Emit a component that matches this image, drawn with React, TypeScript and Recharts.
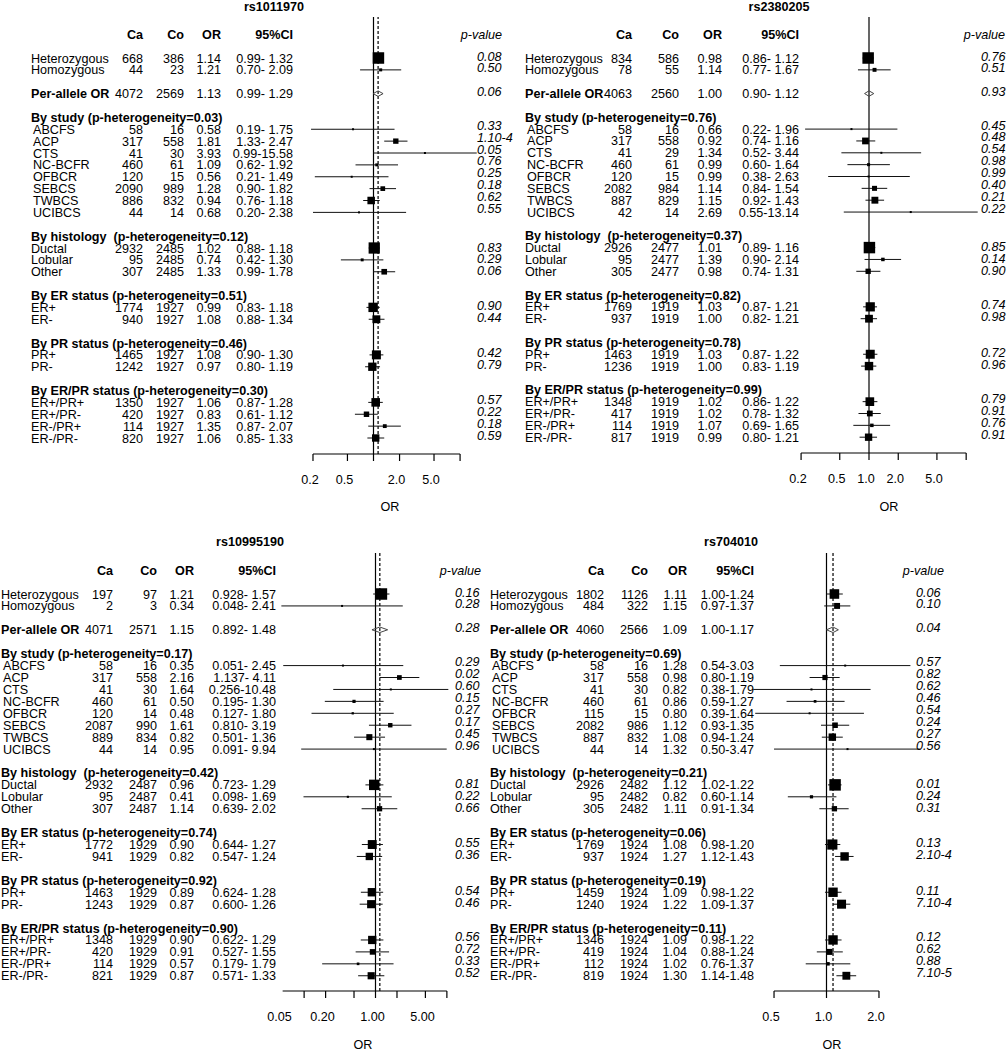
import { ScatterChart, Scatter, XAxis, YAxis, ReferenceLine, ErrorBar } from "recharts"

// row labels shared by all four SNP panels
const mainLabels = ["Heterozygous", "Homozygous", "Per-allele OR"]
const groupTitles = ["By study", "By histology", "By ER status", "By PR status", "By ER/PR status"]
const groupLabels = [
    ["ABCFS", "ACP", "CTS", "NC-BCFR", "OFBCR", "SEBCS", "TWBCS", "UCIBCS"],
    ["Ductal", "Lobular", "Other"],
    ["ER+", "ER-"],
    ["PR+", "PR-"],
    ["ER+/PR+", "ER+/PR-", "ER-/PR+", "ER-/PR-"],
]

// rs1011970
const rs1011970Ca = [668, 44, 4072, 58, 317, 41, 460, 120, 2090, 886, 44, 2932, 95, 307, 1774, 940, 1465, 1242, 1350, 420, 114, 820]
const rs1011970Co = [386, 23, 2569, 16, 558, 30, 61, 15, 989, 832, 14, 2485, 2485, 2485, 1927, 1927, 1927, 1927, 1927, 1927, 1927, 1927]
const rs1011970Or = ["1.14", "1.21", "1.13", "0.58", "1.81", "3.93", "1.09", "0.56", "1.28", "0.94", "0.68", "1.02", "0.74", "1.33", "0.99", "1.08", "1.08", "0.97", "1.06", "0.83", "1.35", "1.06"]
const rs1011970Ci = ["0.99- 1.32", "0.70- 2.09", "0.99- 1.29", "0.19- 1.75", "1.33- 2.47", "0.99-15.58", "0.62- 1.92", "0.21- 1.49", "0.90- 1.82", "0.76- 1.18", "0.20- 2.38", "0.88- 1.18", "0.42- 1.30", "0.99- 1.78", "0.83- 1.18", "0.88- 1.34", "0.90- 1.30", "0.80- 1.19", "0.87- 1.28", "0.61- 1.12", "0.87- 2.07", "0.85- 1.33"]
const rs1011970P = ["0.08", "0.50", "0.06", "0.33", "1.10-4", "0.05", "0.76", "0.25", "0.18", "0.62", "0.55", "0.83", "0.29", "0.06", "0.90", "0.44", "0.42", "0.79", "0.57", "0.22", "0.18", "0.59"]
const rs1011970Het = ["0.03", "0.12", "0.51", "0.46", "0.30"]

// rs2380205
const rs2380205Ca = [834, 78, 4063, 58, 317, 41, 460, 120, 2082, 887, 42, 2926, 95, 305, 1769, 937, 1463, 1236, 1348, 417, 114, 817]
const rs2380205Co = [586, 55, 2560, 16, 558, 29, 61, 15, 984, 829, 14, 2477, 2477, 2477, 1919, 1919, 1919, 1919, 1919, 1919, 1919, 1919]
const rs2380205Or = ["0.98", "1.14", "1.00", "0.66", "0.92", "1.34", "0.99", "0.99", "1.14", "1.15", "2.69", "1.01", "1.39", "0.98", "1.03", "1.00", "1.03", "1.00", "1.02", "1.02", "1.07", "0.99"]
const rs2380205Ci = ["0.86- 1.12", "0.77- 1.67", "0.90- 1.12", "0.22- 1.96", "0.74- 1.16", "0.52- 3.44", "0.60- 1.64", "0.38- 2.63", "0.84- 1.54", "0.92- 1.43", "0.55-13.14", "0.89- 1.16", "0.90- 2.14", "0.74- 1.31", "0.87- 1.21", "0.82- 1.21", "0.87- 1.22", "0.83- 1.19", "0.86- 1.22", "0.78- 1.32", "0.69- 1.65", "0.80- 1.21"]
const rs2380205P = ["0.76", "0.51", "0.93", "0.45", "0.48", "0.54", "0.98", "0.99", "0.40", "0.21", "0.22", "0.85", "0.14", "0.90", "0.74", "0.98", "0.72", "0.96", "0.79", "0.91", "0.76", "0.91"]
const rs2380205Het = ["0.76", "0.37", "0.82", "0.78", "0.99"]

// rs10995190
const rs10995190Ca = [197, 2, 4071, 58, 317, 41, 460, 120, 2087, 889, 44, 2932, 95, 307, 1772, 941, 1463, 1243, 1348, 420, 114, 821]
const rs10995190Co = [97, 3, 2571, 16, 558, 30, 61, 14, 990, 834, 14, 2487, 2487, 2487, 1929, 1929, 1929, 1929, 1929, 1929, 1929, 1929]
const rs10995190Or = ["1.21", "0.34", "1.15", "0.35", "2.16", "1.64", "0.50", "0.48", "1.61", "0.82", "0.95", "0.96", "0.41", "1.14", "0.90", "0.82", "0.89", "0.87", "0.90", "0.91", "0.57", "0.87"]
const rs10995190Ci = ["0.928- 1.57", "0.048- 2.41", "0.892- 1.48", "0.051- 2.45", "1.137- 4.11", "0.256-10.48", "0.195- 1.30", "0.127- 1.80", "0.810- 3.19", "0.501- 1.36", "0.091- 9.94", "0.723- 1.29", "0.098- 1.69", "0.639- 2.02", "0.644- 1.27", "0.547- 1.24", "0.624- 1.28", "0.600- 1.26", "0.622- 1.29", "0.527- 1.55", "0.179- 1.79", "0.571- 1.33"]
const rs10995190P = ["0.16", "0.28", "0.28", "0.29", "0.02", "0.60", "0.15", "0.27", "0.17", "0.45", "0.96", "0.81", "0.22", "0.66", "0.55", "0.36", "0.54", "0.46", "0.56", "0.72", "0.33", "0.52"]
const rs10995190Het = ["0.17", "0.42", "0.74", "0.92", "0.90"]

// rs704010
const rs704010Ca = [1802, 484, 4060, 58, 317, 41, 460, 115, 2082, 887, 44, 2926, 95, 305, 1769, 937, 1459, 1240, 1346, 419, 112, 819]
const rs704010Co = [1126, 322, 2566, 16, 558, 30, 61, 15, 986, 832, 14, 2482, 2482, 2482, 1924, 1924, 1924, 1924, 1924, 1924, 1924, 1924]
const rs704010Or = ["1.11", "1.15", "1.09", "1.28", "0.98", "0.82", "0.86", "0.80", "1.12", "1.08", "1.32", "1.12", "0.82", "1.11", "1.08", "1.27", "1.09", "1.22", "1.09", "1.04", "1.02", "1.30"]
const rs704010Ci = ["1.00-1.24", "0.97-1.37", "1.00-1.17", "0.54-3.03", "0.80-1.19", "0.38-1.79", "0.59-1.27", "0.39-1.64", "0.93-1.35", "0.94-1.24", "0.50-3.47", "1.02-1.22", "0.60-1.14", "0.91-1.34", "0.98-1.20", "1.12-1.43", "0.98-1.22", "1.09-1.37", "0.98-1.22", "0.88-1.24", "0.76-1.37", "1.14-1.48"]
const rs704010P = ["0.06", "0.10", "0.04", "0.57", "0.82", "0.62", "0.46", "0.54", "0.24", "0.27", "0.56", "0.01", "0.24", "0.31", "0.13", "2.10-4", "0.11", "7.10-4", "0.12", "0.62", "0.88", "7.10-5"]
const rs704010Het = ["0.69", "0.21", "0.06", "0.19", "0.11"]

const FONT = "'Liberation Sans', Arial, Helvetica, sans-serif"
const FS = 12.6
const MAX_BOX = 11.5

// p-value text sits a little above its row in some sections
const pShift = [-2, -4, -1, -2, -2, -3]

interface Snp {
    name: string
    ca: number[]
    co: number[]
    or: string[]
    ci: string[]
    p: string[]
    het: string[]
}

const snps: Snp[] = [
    { name: "rs1011970", ca: rs1011970Ca, co: rs1011970Co, or: rs1011970Or, ci: rs1011970Ci, p: rs1011970P, het: rs1011970Het },
    { name: "rs2380205", ca: rs2380205Ca, co: rs2380205Co, or: rs2380205Or, ci: rs2380205Ci, p: rs2380205P, het: rs2380205Het },
    { name: "rs10995190", ca: rs10995190Ca, co: rs10995190Co, or: rs10995190Or, ci: rs10995190Ci, p: rs10995190P, het: rs10995190Het },
    { name: "rs704010", ca: rs704010Ca, co: rs704010Co, or: rs704010Or, ci: rs704010Ci, p: rs704010P, het: rs704010Het },
]

function parseCi(s: string) {
    const [a, b] = s.split("-")
    return [parseFloat(a), parseFloat(b)]
}

function buildRows(snp: Snp) {
    const text: any[] = [{ x: 1, y: -2, kind: "head" }]
    const items: any[] = []
    const push = (i: number, y: number, kind: string, label: string, section: number) => {
        const [lo, hi] = parseCi(snp.ci[i])
        const or = parseFloat(snp.or[i])
        text.push({ x: 1, y, kind, label, ca: snp.ca[i], co: snp.co[i], or: snp.or[i], ci: snp.ci[i], p: snp.p[i], pdy: pShift[section] })
        items.push({ x: or, y, lo, hi, kind })
    }
    push(0, 0, "main", mainLabels[0], 0)
    push(1, 1, "main", mainLabels[1], 0)
    push(2, 3, "allele", mainLabels[2], 0)
    let y = 5
    let idx = 3
    groupTitles.forEach((title, g) => {
        const gap = g === 1 ? "\u00a0 " : " "
        text.push({ x: 1, y, kind: "group", label: `${title}${gap}(p-heterogeneity=${snp.het[g]})` })
        groupLabels[g].forEach((lab, j) => {
            push(idx, y + 1 + j, g === 0 ? "study" : "item", lab, g + 1)
            idx++
        })
        y += groupLabels[g].length + 2
    })
    // box size scales with precision (1 / log CI width), largest box per panel = MAX_BOX
    const prec = items.map(d => 1 / Math.log(d.hi / d.lo))
    const maxPrec = Math.max(...items.filter(d => d.kind !== "allele").map((_, i) => prec[items.indexOf(_)]))
    const boxes = items
        .map((d, i) => ({ ...d, size: Math.max(2, (MAX_BOX * prec[i]) / maxPrec), err: [d.x - d.lo, d.hi - d.x] }))
        .filter(d => d.kind !== "allele")
    const a = items.find(d => d.kind === "allele")
    const h = 0.23
    const diamond = [
        { x: a.lo, y: a.y },
        { x: a.x, y: a.y - h },
        { x: a.hi, y: a.y },
        { x: a.x, y: a.y + h },
        { x: a.lo, y: a.y },
    ]
    return { text, boxes, diamond, allele: a }
}

function BoxShape(props: any) {
    const { cx, cy, payload } = props
    const s = payload.size
    return <rect x={cx - s / 2} y={cy - s / 2} width={s} height={s} fill="#000" />
}

function RowText(props: any) {
    const { cy, payload: r, cols } = props
    const base = cy + 4.5
    const common = { fontFamily: FONT, fontSize: FS, fill: "#000" }
    if (r.kind === "head") {
        return (
            <g {...common}>
                <text x={cols.ca} y={base} textAnchor="end" fontWeight="bold">Ca</text>
                <text x={cols.co} y={base} textAnchor="end" fontWeight="bold">Co</text>
                <text x={cols.or} y={base} textAnchor="end" fontWeight="bold">OR</text>
                <text x={cols.ci} y={base} textAnchor="end" fontWeight="bold">95%CI</text>
                <text x={cols.phead} y={base} textAnchor="end" fontStyle="italic">p-value</text>
            </g>
        )
    }
    if (r.kind === "group") {
        return (
            <text {...common} x={cols.label} y={base} fontWeight="bold" style={{ whiteSpace: "pre" }}>
                {r.label}
            </text>
        )
    }
    return (
        <g {...common}>
            <text x={cols.label + (r.kind === "study" ? 2 : 0)} y={base} fontWeight={r.kind === "allele" ? "bold" : "normal"}>
                {r.label}
            </text>
            <text x={cols.ca} y={base} textAnchor="end">{r.ca}</text>
            <text x={cols.co} y={base} textAnchor="end">{r.co}</text>
            <text x={cols.or} y={base} textAnchor="end">{r.or}</text>
            <text x={cols.ci} y={base} textAnchor="end">{r.ci}</text>
            <text x={cols.p} y={base + r.pdy} fontStyle="italic">{r.p}</text>
        </g>
    )
}

function AxisTick(props: any) {
    const { x, y, payload, marks, labels } = props
    const v = payload.value
    const lab = labels[String(v)]
    return (
        <g>
            {marks.includes(v) && <line x1={x} y1={y} x2={x} y2={y + 7} stroke="#000" strokeWidth={1.2} />}
            {lab && (
                <text x={x - 3} y={y + 29.5} textAnchor="middle" fontFamily={FONT} fontSize={FS} fill="#000">
                    {lab}
                </text>
            )}
        </g>
    )
}

const panels = [
    {
        left: 0, top: 0, width: 504, height: 520, plotTop: 17, plotBottom: 454, row0: 58, pitch: 11.875,
        one: 373.5, k: 37.6, axis: [0.2, 10], marks: [0.2, 0.5, 1, 2, 5, 10],
        labels: { "0.2": "0.2", "0.5": "0.5", "2": "2.0", "5": "5.0" } as Record<string, string>,
        title: { x: 274, y: 7 }, orLabel: { x: 390, y: 507 }, dash: true,
        cols: { label: 31, ca: 143, co: 184, or: 221, ci: 293, p: 477, phead: 502 },
    },
    {
        left: 504, top: 0, width: 503, height: 520, plotTop: 17, plotBottom: 453, row0: 58, pitch: 11.85,
        one: 365, k: 42.2, axis: [0.2, 10], marks: [0.2, 0.5, 1, 2, 5, 10],
        labels: { "0.2": "0.2", "0.5": "0.5", "1": "1.0", "2": "2.0", "5": "5.0" } as Record<string, string>,
        title: { x: 275, y: 7 }, orLabel: { x: 385, y: 507 }, dash: false,
        cols: { label: 21, ca: 128, co: 175, or: 218, ci: 295, p: 477, phead: 501 },
    },
    {
        left: 0, top: 520, width: 504, height: 530, plotTop: 33, plotBottom: 471, row0: 74, pitch: 11.93,
        one: 375.5, k: 31, axis: [0.05, 10], marks: [0.1, 0.2, 0.5, 1, 2, 5, 10],
        labels: { "0.05": "0.05", "0.2": "0.20", "1": "1.00", "5": "5.00" } as Record<string, string>,
        title: { x: 250, y: 22 }, orLabel: { x: 363, y: 525 }, dash: true,
        cols: { label: 1, ca: 113, co: 157, or: 194, ci: 276, p: 455, phead: 481 },
    },
    {
        left: 504, top: 520, width: 503, height: 530, plotTop: 33, plotBottom: 471, row0: 74, pitch: 11.93,
        one: 322.5, k: 75.7, axis: [0.5, 2], marks: [0.5, 1, 2],
        labels: { "0.5": "0.5", "1": "1.0", "2": "2.0" } as Record<string, string>,
        title: { x: 227, y: 22 }, orLabel: { x: 328, y: 525 }, dash: true,
        cols: { label: -14, ca: 100, co: 144, or: 183, ci: 250, p: 412, phead: 440 },
    },
]

function ForestPanel({ snp, cfg }: { snp: Snp; cfg: (typeof panels)[number] }) {
    const { text, boxes, diamond, allele } = buildRows(snp)
    // x domain spans the whole panel so text and long CI lines are never clipped
    const xMin = Math.exp(-cfg.one / cfg.k)
    const xMax = Math.exp((cfg.width - cfg.one) / cfg.k)
    const y0 = (cfg.plotTop - cfg.row0) / cfg.pitch
    const y1 = (cfg.plotBottom - cfg.row0) / cfg.pitch
    const axisH = 30
    const tickValues = Array.from(new Set([...cfg.marks, ...Object.keys(cfg.labels).map(Number)])).sort((a, b) => a - b)

    return (
        <div style={{ position: "absolute", left: cfg.left, top: cfg.top, width: cfg.width, height: cfg.height }}>
            <ScatterChart
                width={cfg.width}
                height={cfg.height}
                margin={{ top: cfg.plotTop, right: 0, left: 0, bottom: cfg.height - cfg.plotBottom - axisH }}
            >
                <XAxis
                    type="number"
                    dataKey="x"
                    scale="log"
                    domain={[xMin, xMax]}
                    ticks={tickValues}
                    interval={0}
                    height={axisH}
                    axisLine={false}
                    tickLine={false}
                    tickSize={0}
                    tickMargin={0}
                    tick={<AxisTick marks={cfg.marks} labels={cfg.labels} />}
                />
                <YAxis type="number" dataKey="y" domain={[y0, y1]} reversed hide />
                <ReferenceLine x={1} stroke="#000" strokeWidth={1.2} />
                {cfg.dash && <ReferenceLine x={allele.x} stroke="#000" strokeWidth={1.2} strokeDasharray="3 2" />}
                <ReferenceLine
                    segment={[{ x: cfg.axis[0], y: y1 }, { x: cfg.axis[1], y: y1 }]}
                    stroke="#000"
                    strokeWidth={1.2}
                    ifOverflow="visible"
                />
                <Scatter data={boxes} shape={BoxShape} isAnimationActive={false}>
                    <ErrorBar dataKey="err" direction="x" width={0} stroke="#111" strokeWidth={1} isAnimationActive={false} />
                </Scatter>
                <Scatter
                    data={diamond}
                    line={{ stroke: "#444", strokeWidth: 1 }}
                    lineType="joint"
                    shape={() => <g />}
                    isAnimationActive={false}
                />
                <Scatter data={text} shape={(p: any) => <RowText {...p} cols={cfg.cols} />} isAnimationActive={false} />
            </ScatterChart>
            <div
                style={{
                    position: "absolute", left: cfg.title.x, top: cfg.title.y, transform: "translate(-50%, -50%)",
                    fontFamily: FONT, fontSize: FS, fontWeight: "bold", whiteSpace: "nowrap",
                }}
            >
                {snp.name}
            </div>
            <div
                style={{
                    position: "absolute", left: cfg.orLabel.x, top: cfg.orLabel.y, transform: "translate(-50%, -50%)",
                    fontFamily: FONT, fontSize: FS, whiteSpace: "nowrap",
                }}
            >
                OR
            </div>
        </div>
    )
}

export default function App() {
    return (
        <div style={{ position: "absolute", left: 0, top: 0, width: 1007, height: 1050, background: "#fff" }}>
            <style>{`.recharts-surface{overflow:visible}.recharts-wrapper{overflow:visible}`}</style>
            {snps.map((snp, i) => (
                <ForestPanel key={snp.name} snp={snp} cfg={panels[i]} />
            ))}
        </div>
    )
}
